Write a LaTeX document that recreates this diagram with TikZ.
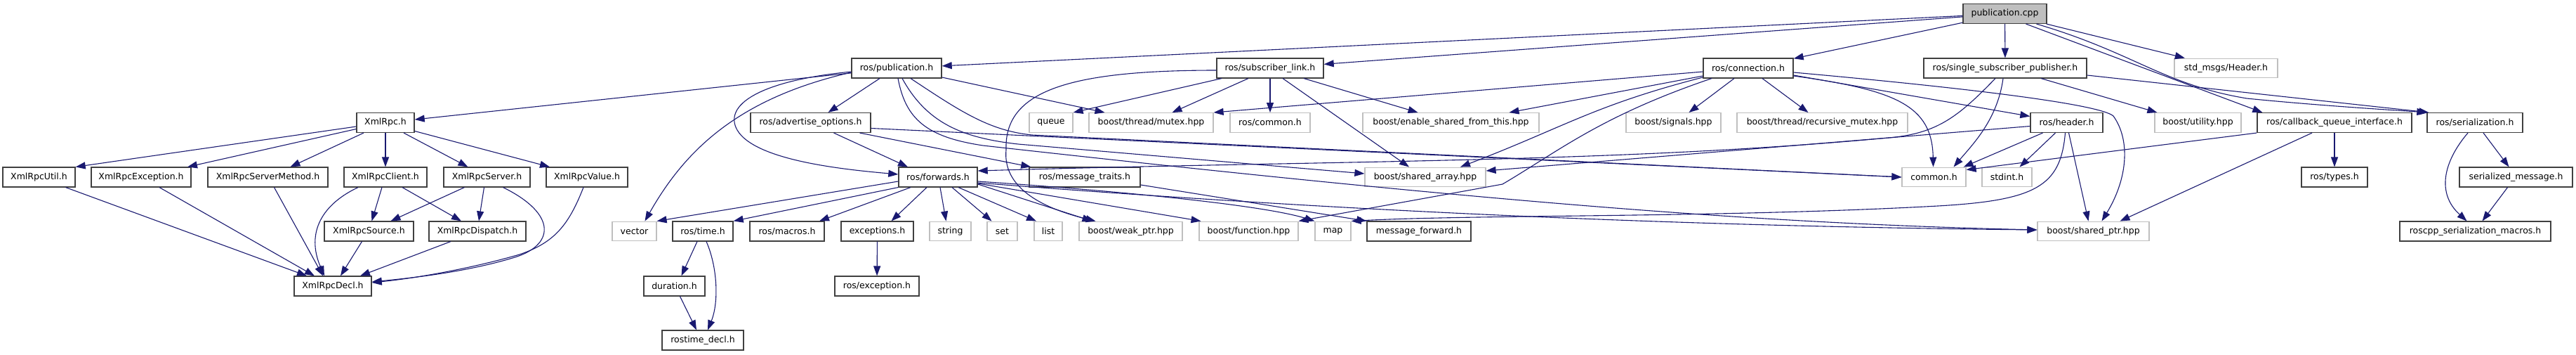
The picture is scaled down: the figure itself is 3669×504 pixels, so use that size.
\documentclass[tikz,border=0pt]{standalone}
\usepackage{fontspec}
\setmainfont{DejaVu Sans}
\usetikzlibrary{arrows.meta}
\definecolor{edgecol}{HTML}{191970}
\definecolor{docline}{HTML}{404040}
\definecolor{extline}{HTML}{BFBFBF}
\definecolor{rootfill}{HTML}{BFBFBF}
\tikzset{
  nbox/.style={rectangle, inner sep=0pt, minimum height=27.7pt, font=\fontsize{12.5}{15}\selectfont, text=black},
  docbox/.style={nbox, draw=docline, line width=1.4pt, fill=white},
  extbox/.style={nbox, draw=extline, line width=1.2pt, fill=white},
  rootbox/.style={nbox, draw=docline, line width=1.4pt, fill=rootfill},
  edge/.style={draw=edgecol, line width=1.1pt, -{Triangle[length=14pt,width=10pt]}},
}
\begin{document}
\begin{tikzpicture}[x=1pt,y=-1pt]
\useasboundingbox (0,0) rectangle (3669,504);
% row 1
\node[rootbox, minimum width=119pt] (pcpp) at (2855.5,19.5) {publication.cpp};
% row 2
\node[docbox, minimum width=128pt] (pub) at (1277,97) {ros/publication.h};
\node[docbox, minimum width=152pt] (sublink) at (1809,97) {ros/subscriber\_link.h};
\node[docbox, minimum width=128pt] (conn) at (2490,97) {ros/connection.h};
\node[docbox, minimum width=232pt] (ssp) at (2856,97) {ros/single\_subscriber\_publisher.h};
\node[extbox, minimum width=147pt] (stdhdr) at (3170.5,97) {std\_msgs/Header.h};
% row 3
\node[docbox, minimum width=82pt] (xmlrpc) at (549,174.5) {XmlRpc.h};
\node[docbox, minimum width=171pt] (advopt) at (1154.5,174.5) {ros/advertise\_options.h};
\node[extbox, minimum width=62pt] (queue) at (1497,174.5) {queue};
\node[extbox, minimum width=177pt] (mutex) at (1639.5,174.5) {boost/thread/mutex.hpp};
\node[extbox, minimum width=114pt] (roscommon) at (1809,174.5) {ros/common.h};
\node[extbox, minimum width=251pt] (esft) at (2066.5,174.5) {boost/enable\_shared\_from\_this.hpp};
\node[extbox, minimum width=135pt] (signals) at (2383.5,174.5) {boost/signals.hpp};
\node[extbox, minimum width=243pt] (rmutex) at (2595.5,174.5) {boost/thread/recursive\_mutex.hpp};
\node[docbox, minimum width=103pt] (header) at (2943.5,174.5) {ros/header.h};
\node[extbox, minimum width=123pt] (utility) at (3130.5,174.5) {boost/utility.hpp};
\node[docbox, minimum width=220pt] (cbq) at (3325,174.5) {ros/callback\_queue\_interface.h};
\node[docbox, minimum width=136pt] (ser) at (3525,174.5) {ros/serialization.h};
% row 4
\node[docbox, minimum width=103pt] (util) at (55.5,252) {XmlRpcUtil.h};
\node[docbox, minimum width=142pt] (exc) at (201,252) {XmlRpcException.h};
\node[docbox, minimum width=171pt] (srvm) at (381.5,252) {XmlRpcServerMethod.h};
\node[docbox, minimum width=118pt] (client) at (549,252) {XmlRpcClient.h};
\node[docbox, minimum width=123pt] (server) at (693.5,252) {XmlRpcServer.h};
\node[docbox, minimum width=116pt] (value) at (836,252) {XmlRpcValue.h};
\node[docbox, minimum width=112pt] (fwd) at (1336,252) {ros/forwards.h};
\node[docbox, minimum width=158pt] (mtraits) at (1545,252) {ros/message\_traits.h};
\node[extbox, minimum width=172pt] (sarray) at (2030,252) {boost/shared\_array.hpp};
\node[extbox, minimum width=91pt] (common) at (2754.5,252) {common.h};
\node[extbox, minimum width=71pt] (stdint) at (2858.5,252) {stdint.h};
\node[docbox, minimum width=94pt] (types) at (3325,252) {ros/types.h};
\node[docbox, minimum width=161pt] (smsg) at (3583.5,252) {serialized\_message.h};
% row 5
\node[docbox, minimum width=127pt] (source) at (525.5,329) {XmlRpcSource.h};
\node[docbox, minimum width=138pt] (dispatch) at (680,329) {XmlRpcDispatch.h};
\node[extbox, minimum width=63pt] (vector) at (903.5,329) {vector};
\node[docbox, minimum width=86pt] (time) at (1001,329) {ros/time.h};
\node[docbox, minimum width=106pt] (macros) at (1121,329) {ros/macros.h};
\node[docbox, minimum width=103pt] (exceptions) at (1249.5,329) {exceptions.h};
\node[extbox, minimum width=59pt] (string) at (1353.5,329) {string};
\node[extbox, minimum width=43pt] (set) at (1427.5,329) {set};
\node[extbox, minimum width=40pt] (list) at (1493,329) {list};
\node[extbox, minimum width=147pt] (weak) at (1610.5,329) {boost/weak\_ptr.hpp};
\node[extbox, minimum width=141pt] (function) at (1778.5,329) {boost/function.hpp};
\node[extbox, minimum width=51pt] (map) at (1898.5,329) {map};
\node[docbox, minimum width=148pt] (mfwd) at (2021,329) {message\_forward.h};
\node[extbox, minimum width=159pt] (sptr) at (2981.5,329) {boost/shared\_ptr.hpp};
\node[docbox, minimum width=215pt] (macrosser) at (3525.5,329) {roscpp\_serialization\_macros.h};
% row 6
\node[docbox, minimum width=110pt] (decl) at (474,407) {XmlRpcDecl.h};
\node[docbox, minimum width=87pt] (duration) at (960.5,407) {duration.h};
\node[docbox, minimum width=120pt] (rosexc) at (1249,407) {ros/exception.h};
% row 7
\node[docbox, minimum width=116pt] (rtdecl) at (1001,484) {rostime\_decl.h};

% publication.cpp
\draw[edge] (pcpp) -- (pub);
\draw[edge] (pcpp) -- (sublink);
\draw[edge] (pcpp) -- (conn);
\draw[edge] (pcpp) -- (ssp);
\draw[edge] (pcpp) -- (stdhdr);
\draw[edge] ([xshift=30pt]pcpp.south) -- ([xshift=8pt]cbq.north west);
\draw[edge] ([xshift=45pt]pcpp.south) .. controls (3040,75) and (3080,120) .. (3200,140) .. controls (3300,150) and (3400,156) .. (ser.north west);
% single_subscriber_publisher
\draw[edge] ([yshift=-10pt]ssp.east) -- ([xshift=3pt]ser.north west);
\draw[edge] ([xshift=51pt]ssp.south) -- ([xshift=4pt]utility.north west);
\draw[edge] ([xshift=-3pt]ssp.south) .. controls (2845,170) and (2810,205) .. ([xshift=28pt]common.north);
\draw[edge] ([xshift=-14pt]ssp.south) .. controls (2790,165) and (2760,190) .. (2690,196) .. controls (2300,232) and (1900,228) .. ([yshift=9pt]fwd.east);
% connection
\draw[edge] ([xshift=-20pt]conn.south) -- ([xshift=22pt]signals.north);
\draw[edge] ([xshift=20pt]conn.south) -- ([xshift=-20pt]rmutex.north);
\draw[edge] ([yshift=-10pt]conn.east) -- ([yshift=9pt]header.west);
\draw[edge] ([yshift=-6pt]conn.east) .. controls (2800,125) and (2990,148) .. (3010,165) .. controls (3035,200) and (3030,255) .. ([xshift=12pt]sptr.north);
\draw[edge] ([yshift=-11pt]conn.east) .. controls (2700,128) and (2752,150) .. ([xshift=-1pt]common.north);
\draw[edge] ([yshift=-5pt]conn.west) -- (mutex.north east);
\draw[edge] ([yshift=-11pt]conn.west) -- ([xshift=83pt]esft.north);
\draw[edge] ([yshift=-13pt]conn.west) .. controls (2270,150) and (2230,180) .. ([xshift=50pt]sarray.north);
\draw[edge] ([xshift=-52pt]conn.south) .. controls (2280,165) and (2220,215) .. (2140,262) -- (function.north east);
% subscriber_link
\draw[edge] ([xshift=-69pt]sublink.south) -- (queue.north east);
\draw[edge] ([xshift=-31pt]sublink.south) -- ([xshift=30pt]mutex.north);
\draw[edge] (sublink) -- (roscommon);
\draw[edge] ([xshift=18pt]sublink.south) -- ([xshift=-23pt]sarray.north);
\draw[edge] ([xshift=48pt]sublink.south) -- ([xshift=-47pt]esft.north);
\draw[edge] ([yshift=-3pt]sublink.west) .. controls (1520,100) and (1430,130) .. (1433,213) .. controls (1428,265) and (1480,295) .. ([xshift=-50pt]weak.north);
% publication.h
\draw[edge] ([xshift=-24pt]pub.south) -- ([xshift=25pt]advopt.north);
\draw[edge] ([yshift=-5pt]pub.west) .. controls (1080,115) and (1030,150) .. (1050,185) .. controls (1075,228) and (1200,241) .. ([yshift=4pt]fwd.west);
\draw[edge] (pub) -- (xmlrpc);
\draw[edge] ([yshift=-6pt]pub.west) .. controls (1050,140) and (975,215) .. ([xshift=15pt]vector.north);
\draw[edge] ([yshift=-13pt]pub.east) -- ([xshift=-66pt]mutex.north);
\draw[edge] ([xshift=20pt]pub.south) .. controls (1370,160) and (1410,186) .. (1470,192) -- (common.west);
\draw[edge] ([xshift=8pt]pub.south) .. controls (1320,175) and (1370,196) .. (1450,205) -- ([yshift=5pt]sarray.west);
\draw[edge] ([xshift=2pt]pub.south) .. controls (1290,170) and (1320,195) .. (1400,207) .. controls (2100,285) and (2500,318) .. ([yshift=2pt]sptr.west);
% advertise_options
\draw[edge] ([xshift=33pt]advopt.south) -- ([xshift=-43pt]fwd.north);
\draw[edge] ([xshift=70pt]advopt.south) -- ([xshift=3pt]mtraits.north west);
\draw[edge] ([yshift=-8pt]advopt.east) -- (common.west);
% forwards
\draw[edge] ([yshift=-6pt]fwd.west) -- (vector.north east);
\draw[edge] (fwd.south west) -- (time.north east);
\draw[edge] ([xshift=-39pt]fwd.south) -- ([xshift=46pt]macros.north);
\draw[edge] ([xshift=-16pt]fwd.south) -- ([xshift=20pt]exceptions.north);
\draw[edge] ([xshift=3pt]fwd.south) -- ([xshift=-6pt]string.north);
\draw[edge] ([xshift=20pt]fwd.south) -- ([xshift=-15pt]set.north);
\draw[edge] ([xshift=29pt]fwd.south) -- ([xshift=-17pt]list.north);
\draw[edge] ([yshift=-10pt]fwd.east) -- ([xshift=-55pt]weak.north);
\draw[edge] ([yshift=-9pt]fwd.east) -- ([xshift=-68pt]function.north);
\draw[edge] ([yshift=-6pt]fwd.east) .. controls (1600,272) and (1800,292) .. (map.north west);
\draw[edge] ([yshift=-8pt]fwd.east) .. controls (1900,300) and (2400,322) .. ([yshift=2pt]sptr.west);
% message_traits
\draw[edge] ([yshift=-11pt]mtraits.east) -- (mfwd.north west);
% header
\draw[edge] ([xshift=-34pt]header.south) -- ([xshift=-4pt]common.north east);
\draw[edge] ([xshift=-16pt]header.south) -- ([xshift=18pt]stdint.north);
\draw[edge] ([xshift=-2pt]header.south) .. controls (2935,265) and (2900,285) .. (2760,293) .. controls (2450,310) and (2100,305) .. (map.north east);
\draw[edge] ([xshift=3pt]header.south) -- ([xshift=-7pt]sptr.north);
\draw[edge] ([yshift=-5pt]header.west) -- ([yshift=9pt]sarray.east);
% callback_queue_interface
\draw[edge] (cbq) -- (types);
\draw[edge] (cbq.south west) -- ([yshift=-4pt]common.north east);
\draw[edge] ([xshift=-32pt]cbq.south) -- ([xshift=38pt]sptr.north);
% serialization
\draw[edge] ([xshift=-10pt]ser.south) .. controls (3480,230) and (3470,275) .. ([xshift=-12pt]macrosser.north);
\draw[edge] ([xshift=12pt]ser.south) -- ([xshift=-10pt]smsg.north);
\draw[edge] ([xshift=-12pt]smsg.south) -- ([xshift=10pt]macrosser.north);
% XmlRpc
\draw[edge] ([yshift=-5.5pt]xmlrpc.west) -- (util.north east);
\draw[edge] ([yshift=-9pt]xmlrpc.west) -- ([xshift=66pt]exc.north);
\draw[edge] ([xshift=-31pt]xmlrpc.south) -- ([xshift=32pt]srvm.north);
\draw[edge] (xmlrpc) -- (client);
\draw[edge] ([xshift=26pt]xmlrpc.south) -- ([xshift=-27pt]server.north);
\draw[edge] ([yshift=-12pt]xmlrpc.east) -- ([xshift=-53pt]value.north);
\draw[edge] ([xshift=38pt]util.south) -- ([xshift=-37pt]decl.north);
\draw[edge] ([xshift=26pt]exc.south) -- ([xshift=-26pt]decl.north);
\draw[edge] ([xshift=9pt]srvm.south) -- ([xshift=-14pt]decl.north);
\draw[edge] ([xshift=-39pt]client.south) .. controls (460,290) and (435,330) .. ([xshift=-12pt]decl.north);
\draw[edge] ([xshift=-5pt]client.south) -- ([xshift=4pt]source.north);
\draw[edge] ([xshift=24pt]client.south) -- ([xshift=-23pt]dispatch.north);
\draw[edge] ([xshift=-32pt]server.south) -- ([xshift=31pt]source.north);
\draw[edge] ([xshift=-4pt]server.south) -- ([xshift=2pt]dispatch.north);
\draw[edge] ([xshift=23pt]server.south) .. controls (795,305) and (790,350) .. (730,367) .. controls (660,388) and (580,396) .. ([yshift=6pt]decl.east);
\draw[edge] ([xshift=-5pt]value.south) .. controls (810,320) and (790,345) .. (740,362) .. controls (660,385) and (580,397) .. ([yshift=5pt]decl.east);
\draw[edge] ([xshift=-10pt]source.south) -- ([xshift=11pt]decl.north);
\draw[edge] ([xshift=-38pt]dispatch.south) -- ([xshift=39pt]decl.north);
% time
\draw[edge] ([xshift=-8pt]time.south) -- ([xshift=10pt]duration.north);
\draw[edge] ([xshift=5pt]time.south) .. controls (1022,380) and (1024,430) .. ([xshift=7pt]rtdecl.north);
\draw[edge] ([xshift=8pt]duration.south) -- ([xshift=-9pt]rtdecl.north);
\draw[edge] (exceptions) -- (rosexc);
\end{tikzpicture}
\end{document}
